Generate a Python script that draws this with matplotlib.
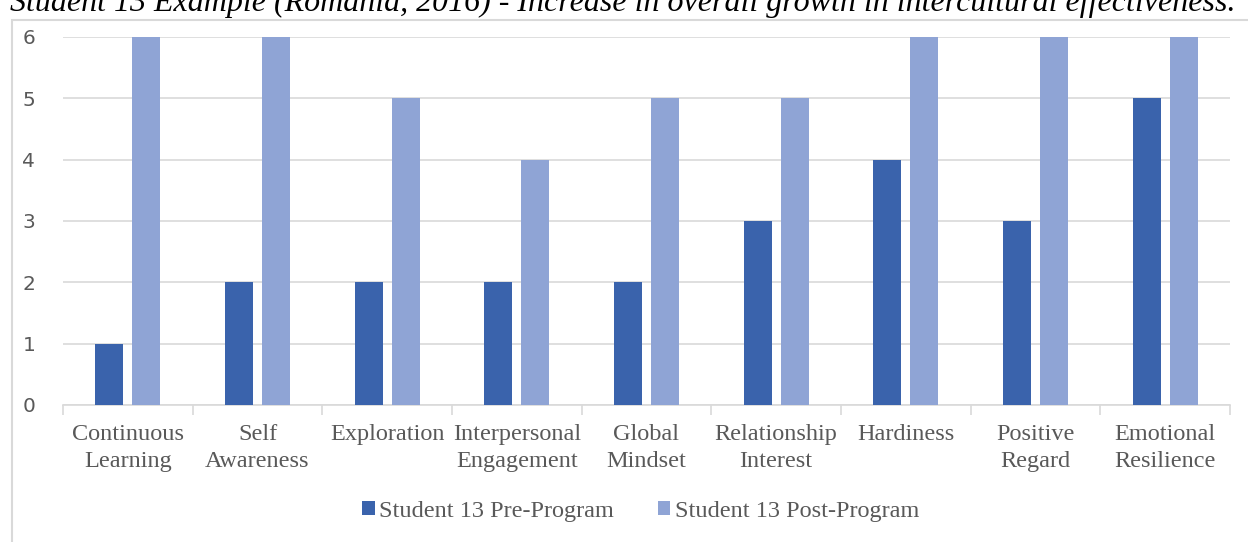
import matplotlib.pyplot as plt
import numpy as np
from matplotlib.patches import Rectangle

categories = ['Continuous\nLearning', 'Self\nAwareness', 'Exploration', 'Interpersonal\nEngagement',
              'Global\nMindset', 'Relationship\nInterest', 'Hardiness', 'Positive\nRegard',
              'Emotional\nResilience']
pre_values = [1, 2, 2, 2, 2, 3, 4, 3, 5]
post_values = [6, 6, 5, 4, 5, 5, 6, 6, 6]
series_names = ['Student 13 Pre-Program', 'Student 13 Post-Program']
title = 'Student 13 Example (Romania, 2016) - Increase in overall growth in intercultural effectiveness.'

W, H = 1248, 542
fig = plt.figure(figsize=(W / 100, H / 100), dpi=100)
ax = fig.add_axes([63 / W, 1 - 405 / H, (1230 - 63) / W, (405 - 37) / H])

x = np.arange(len(categories))
bw = 0.216
ax.bar(x - 0.143, pre_values, bw, color='#3A63AC', label=series_names[0], zorder=3)
ax.bar(x + 0.143, post_values, bw, color='#8FA4D5', label=series_names[1], zorder=3)

ax.set_xlim(-0.5, len(categories) - 0.5)
ax.set_ylim(0, 6)
ax.set_yticks(range(7))
ax.yaxis.grid(True, color='#D9D9D9', linewidth=1.2, zorder=0)
for s in ['top', 'right', 'left']:
    ax.spines[s].set_visible(False)
ax.spines['bottom'].set_color('#D9D9D9')
ax.spines['bottom'].set_linewidth(1.2)
ax.tick_params(axis='y', length=0, pad=20, labelsize=14.5, labelcolor='#595959')
ax.set_xticks(np.arange(len(categories) + 1) - 0.5, minor=True)
ax.set_xticks(x)
ax.set_xticklabels(categories, family='Liberation Serif', fontsize=17.5, color='#595959',
                   linespacing=1.35)
ax.tick_params(axis='x', which='major', length=0, pad=14)
ax.tick_params(axis='x', which='minor', length=7, color='#D9D9D9', width=1.2)

leg = fig.legend(loc='center', bbox_to_anchor=(641 / W, 1 - 511 / H), ncol=2, frameon=False,
                 prop={'family': 'Liberation Serif', 'size': 17.5}, handlelength=0.5,
                 handleheight=0.5, handletextpad=0.2, columnspacing=1.8)
for t in leg.get_texts():
    t.set_color('#595959')

fig.patches.append(Rectangle((12 / W, -0.1), 1.2, 1 - 20 / H + 0.1, transform=fig.transFigure,
                             fill=False, edgecolor='#D9D9D9', linewidth=1.5))
fig.text(10 / W, 1 - 11 / H, title, family='Liberation Serif', style='italic', fontsize=23,
         va='baseline', ha='left', color='black')

fig.savefig('out.png', dpi=100)
